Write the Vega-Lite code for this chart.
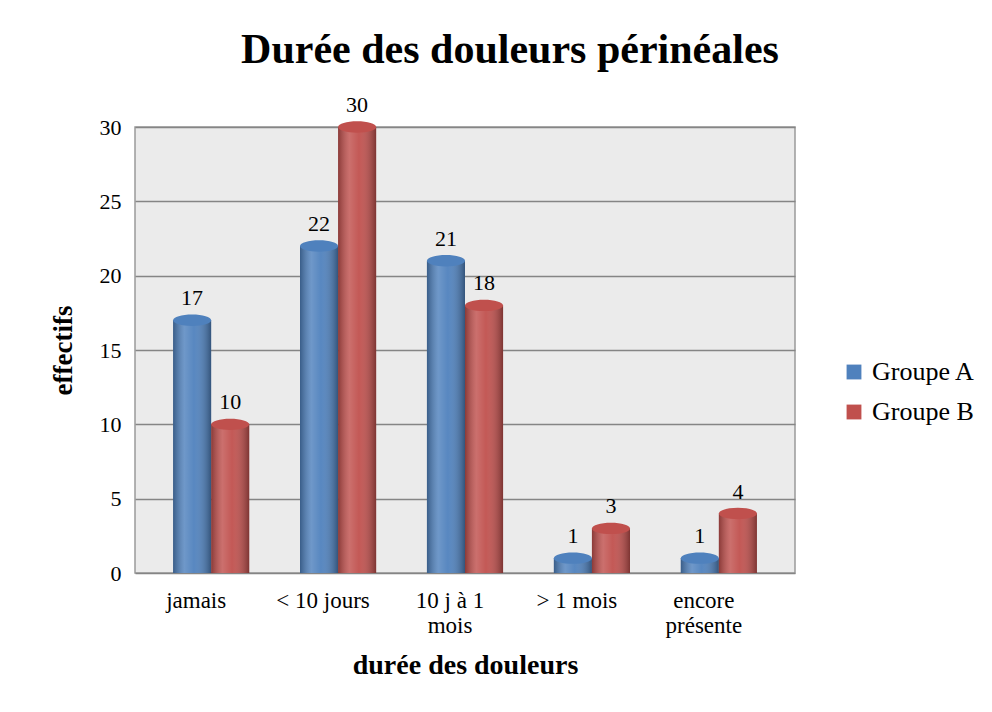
{
  "$schema": "https://vega.github.io/schema/vega-lite/v6.json",
  "autosize": "none",
  "width": 660,
  "height": 446,
  "padding": {"left": 135, "top": 127, "right": 197, "bottom": 139},
  "background": "white",
  "title": {
    "text": "Durée des douleurs périnéales",
    "font": "Liberation Serif",
    "fontSize": 42,
    "fontWeight": "bold",
    "color": "black",
    "anchor": "middle",
    "frame": "group",
    "dx": 45,
    "offset": 22
  },
  "config": {
    "view": {"fill": "#ebebeb", "stroke": "#9a9a9a", "strokeWidth": 1.5},
    "font": "Liberation Serif"
  },
  "data": {
    "values": [
      {"duree": "jamais", "groupe": "Groupe A", "n": 17},
      {"duree": "jamais", "groupe": "Groupe B", "n": 10},
      {"duree": "< 10 jours", "groupe": "Groupe A", "n": 22},
      {"duree": "< 10 jours", "groupe": "Groupe B", "n": 30},
      {"duree": "10 j à 1 mois", "groupe": "Groupe A", "n": 21},
      {"duree": "10 j à 1 mois", "groupe": "Groupe B", "n": 18},
      {"duree": "> 1 mois", "groupe": "Groupe A", "n": 1},
      {"duree": "> 1 mois", "groupe": "Groupe B", "n": 3},
      {"duree": "encore présente", "groupe": "Groupe A", "n": 1},
      {"duree": "encore présente", "groupe": "Groupe B", "n": 4}
    ]
  },
  "encoding": {
    "x": {
      "field": "duree",
      "type": "nominal",
      "sort": null,
      "scale": {"paddingInner": 0.4, "paddingOuter": 0.3},
      "axis": {
        "title": "durée des douleurs",
        "titleFont": "Liberation Serif",
        "titleFontSize": 28,
        "titleFontWeight": "bold",
        "titleColor": "black",
        "titlePadding": 14,
        "labelFont": "Liberation Serif",
        "labelFontSize": 23,
        "labelColor": "black",
        "labelAngle": 0,
        "labelPadding": 16,
        "labelOffset": -15,
        "labelLimit": 200,
        "labelExpr": "datum.value == '10 j à 1 mois' ? ['10 j à 1', 'mois'] : datum.value == 'encore présente' ? ['encore', 'présente'] : datum.value",
        "ticks": false,
        "domain": false,
        "grid": false
      }
    },
    "xOffset": {"field": "groupe", "type": "nominal", "scale": {"paddingInner": 0, "paddingOuter": 0}},
    "y": {
      "field": "n",
      "type": "quantitative",
      "scale": {"domain": [0, 30], "nice": false},
      "axis": {
        "title": "effectifs",
        "titleFont": "Liberation Serif",
        "titleFontSize": 27,
        "titleFontWeight": "bold",
        "titleColor": "black",
        "titlePadding": 22,
        "values": [0, 5, 10, 15, 20, 25, 30],
        "labelFont": "Liberation Serif",
        "labelFontSize": 22,
        "labelColor": "black",
        "labelPadding": 14,
        "ticks": false,
        "domain": false,
        "gridColor": "#858585",
        "gridWidth": 1.5
      }
    }
  },
  "layer": [
    {
      "mark": {"type": "bar", "stroke": null},
      "encoding": {
        "color": {
          "field": "groupe",
          "type": "nominal",
          "scale": {"domain": ["Groupe A", "Groupe B"], "range": ["#4f81bd", "#c0504d"]},
          "legend": {
            "title": null,
            "orient": "none",
            "legendX": 706,
            "legendY": 232,
            "symbolType": "square",
            "symbolSize": 220,
            "symbolStrokeWidth": 1.5,
            "labelFont": "Liberation Serif",
            "labelFontSize": 26,
            "labelColor": "black",
            "labelOffset": 5,
            "rowPadding": 14
          }
        }
      }
    },
    {
      "mark": {
        "type": "bar",
        "fill": {
          "gradient": "linear",
          "x1": 0, "x2": 1, "y1": 0, "y2": 0,
          "stops": [
            {"offset": 0, "color": "rgba(0,0,0,0.28)"},
            {"offset": 0.3, "color": "rgba(255,255,255,0.18)"},
            {"offset": 0.55, "color": "rgba(255,255,255,0.05)"},
            {"offset": 1, "color": "rgba(0,0,0,0.35)"}
          ]
        }
      },
      "encoding": {}
    },
    {
      "mark": {
        "type": "point",
        "filled": true,
        "shape": "M -1 0 A 1 0.3 0 1 0 1 0 A 1 0.3 0 1 0 -1 0 Z",
        "size": 1444,
        "opacity": 1,
        "strokeWidth": 1
      },
      "encoding": {
        "color": {"field": "groupe", "type": "nominal", "legend": null}
      }
    },
    {
      "mark": {
        "type": "text",
        "font": "Liberation Serif",
        "fontSize": 22,
        "color": "black",
        "baseline": "bottom",
        "dy": -10
      },
      "encoding": {
        "text": {"field": "n", "type": "quantitative"}
      }
    }
  ]
}
